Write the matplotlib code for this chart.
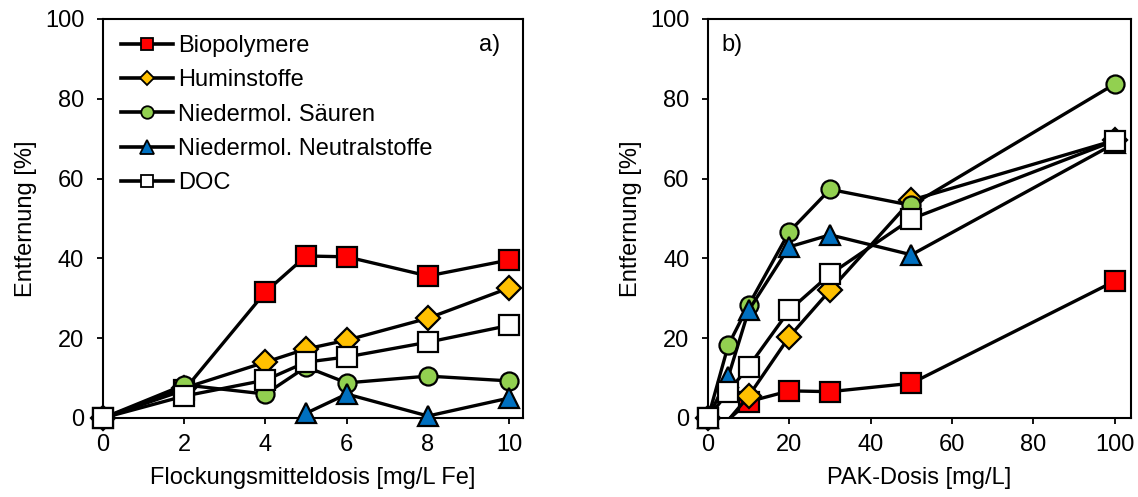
import numpy as np
import matplotlib
matplotlib.use("Agg")
import matplotlib.pyplot as plt
from matplotlib.lines import Line2D

plt.rcParams['font.family'] = ['Liberation Sans', 'DejaVu Sans']
plt.rcParams['font.size'] = 17

# ---------------- data ----------------
series_names = ["Biopolymere", "Huminstoffe", "Niedermol. Säuren",
                "Niedermol. Neutralstoffe", "DOC"]

# panel a) Flockung (mg/L Fe)
dose_fe = [0, 2, 4, 5, 6, 8, 10]
a_bio = [0, 7.0, 31.6, 40.6, 40.4, 35.6, 39.6]
a_hum = [0, 7.5, 14.0, 17.3, 19.5, 25.0, 32.6]
a_sae = [0, 8.3, 6.0, 12.8, 8.8, 10.5, 9.3]
a_neu = [np.nan, np.nan, np.nan, 1.2, 6.0, 0.5, 5.0]
a_doc = [0, 5.5, 9.5, 14.0, 15.3, 19.0, 23.2]

# panel b) PAK (mg/L)
dose_pak = [0, 5, 10, 20, 30, 50, 100]
b_bio = [0, -0.4, 4.1, 6.8, 6.6, 8.7, 34.3]
b_hum = [0, -0.5, 5.5, 20.4, 32.0, 54.6, 69.6]
b_sae = [0, 18.3, 28.3, 46.7, 57.3, 53.3, 83.7]
b_neu = [0, 10.4, 27.0, 42.9, 45.9, 40.9, 68.8]
b_doc = [0, 6.6, 12.9, 27.0, 36.0, 49.9, 69.5]

y_ticks = [0, 20, 40, 60, 80, 100]
xa_ticks = [0, 2, 4, 6, 8, 10]
xb_ticks = [0, 20, 40, 60, 80, 100]

# ---------------- styles ----------------
markers = ['s', 'D', 'o', '^', 's']
colors = ['#ff0000', '#ffc000', '#92d050', '#0070c0', '#ffffff']
msizes = [14, 12.5, 13, 15, 14]
lm_sizes = [9, 7.5, 9, 10, 9]

W, H = 1138, 497
fig = plt.figure(figsize=(W / 100, H / 100), dpi=100)

def px_axes(x0, x1, ytop, ybot):
    return fig.add_axes([x0 / W, 1 - ybot / H, (x1 - x0) / W, (ybot - ytop) / H])

axA = px_axes(103, 523, 19, 418)
axB = px_axes(708, 1131, 19, 418)

def draw(ax, x, ys):
    x = np.asarray(x, float)
    for i, y in enumerate(ys):
        y = np.asarray(y, float)
        ax.plot(x, y, '-', color='black', lw=2.4, zorder=2 + 2 * i,
                clip_on=True, solid_capstyle='round')
        m = np.isfinite(y) & (y >= 0)
        ax.plot(x[m], y[m], ls='none', marker=markers[i], ms=msizes[i],
                mfc=colors[i], mec='black', mew=1.6, zorder=3 + 2 * i,
                clip_on=False)

def style(ax, xmax, xticks, xlabel):
    ax.set_ylim(0, 100)
    ax.set_xlim(0, xmax)
    ax.set_yticks(y_ticks)
    ax.set_xticks(xticks)
    for s in ax.spines.values():
        s.set_linewidth(1.5)
        s.set_zorder(1)
    ax.tick_params(direction='out', length=4.5, width=1.3, labelsize=17)
    ax.tick_params(axis='y', pad=9)
    ax.tick_params(axis='x', pad=7)
    ax.set_ylabel("Entfernung [%]", fontsize=17, labelpad=6)
    ax.set_xlabel(xlabel, fontsize=17, labelpad=8)

draw(axA, dose_fe, [a_bio, a_hum, a_sae, a_neu, a_doc])
draw(axB, dose_pak, [b_bio, b_hum, b_sae, b_neu, b_doc])
style(axA, 10.34, xa_ticks, "Flockungsmitteldosis [mg/L Fe]")
style(axB, 104, xb_ticks, "PAK-Dosis [mg/L]")

axA.text(0.92, 0.935, "a)", transform=axA.transAxes, ha='center', va='center', fontsize=17)
axB.text(0.057, 0.935, "b)", transform=axB.transAxes, ha='center', va='center', fontsize=17)

handles = [Line2D([], [], color='black', lw=2.6, marker=markers[i], ms=lm_sizes[i],
                  mfc=colors[i], mec='black', mew=1.3) for i in range(5)]
axA.legend(handles, series_names, loc='upper left', bbox_to_anchor=(0.01, 0.995),
           frameon=False, fontsize=17, handlelength=2.2, handletextpad=0.2,
           labelspacing=0.52, borderaxespad=0.2)

fig.savefig("out.png", dpi=100)
